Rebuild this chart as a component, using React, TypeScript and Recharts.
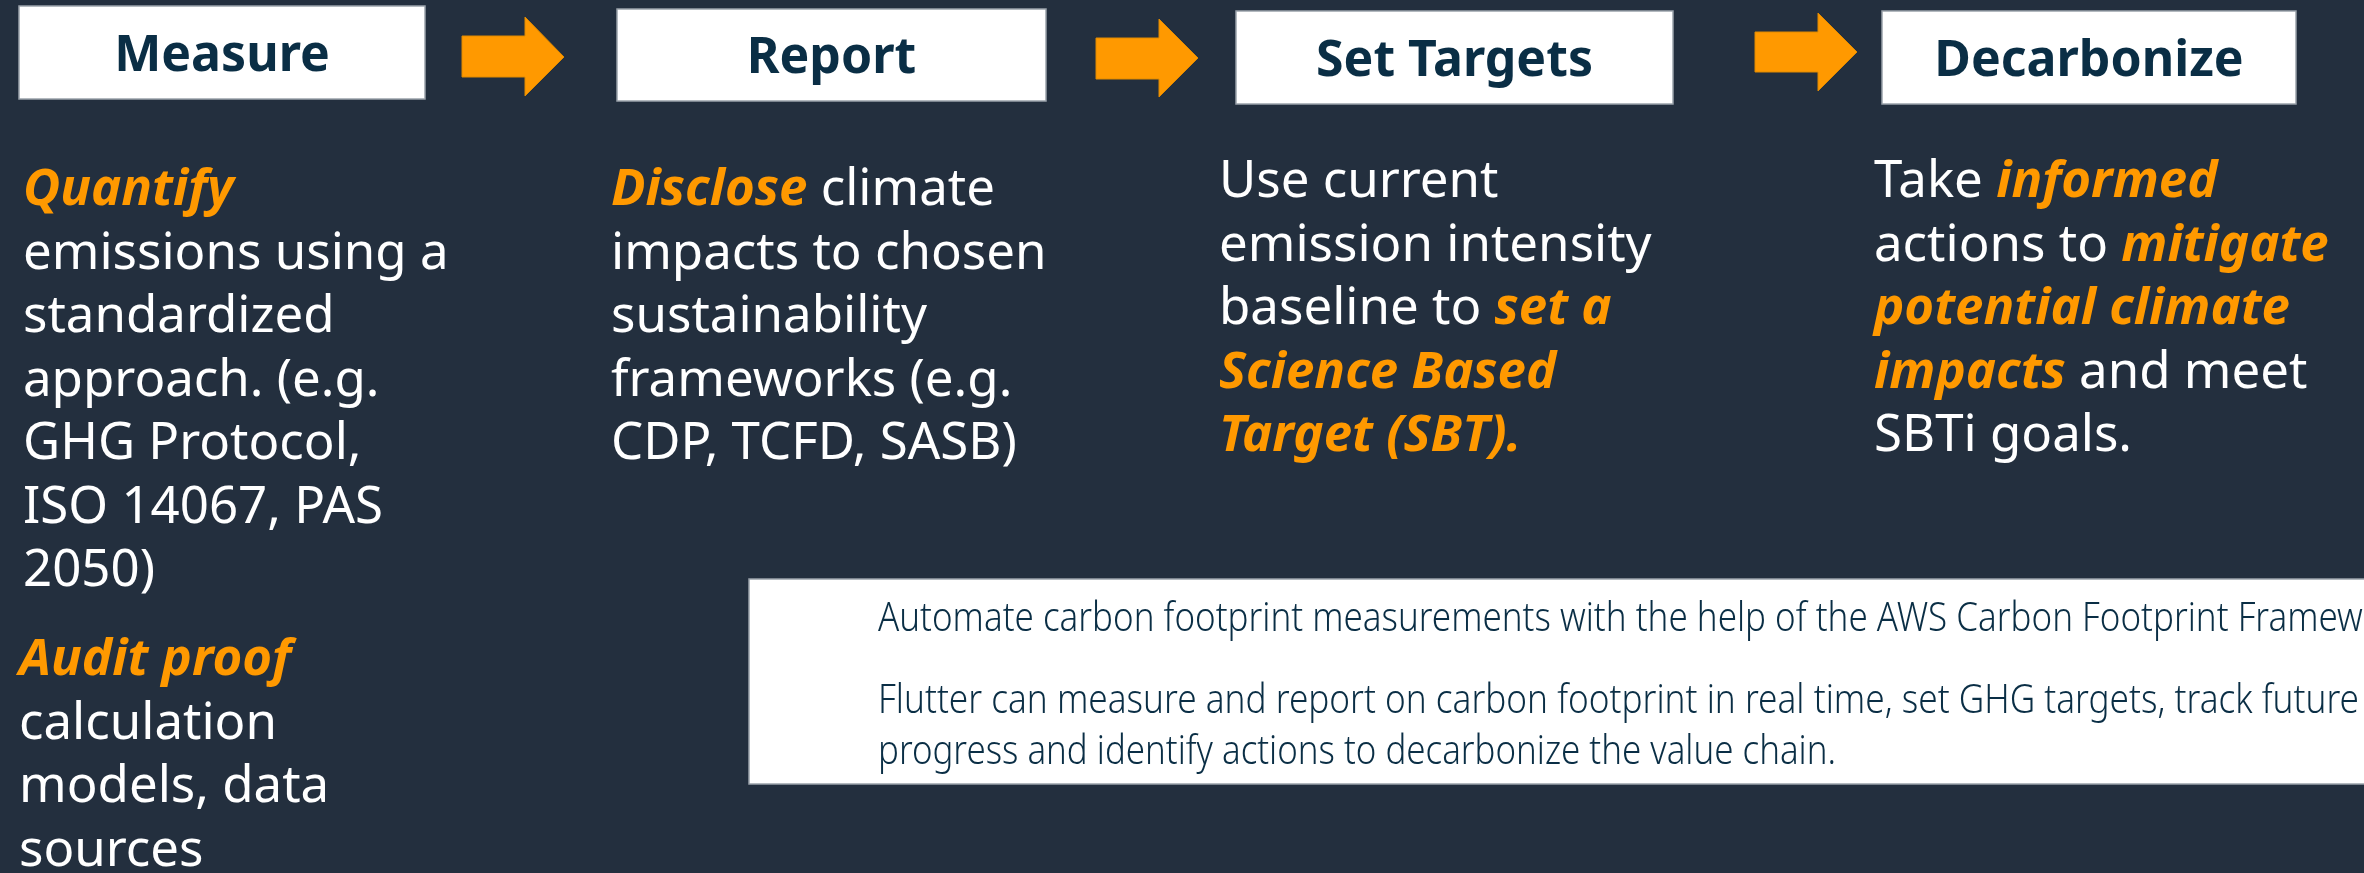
import React from 'react';
import { Surface, Layer, Rectangle, Polygon } from 'recharts';

// ---------- content ----------
const stepTitles: string[] = ['Measure', 'Report', 'Set Targets', 'Decarbonize'];

// each line is a list of [text, highlighted] segments
type Seg = [string, boolean];
const measureLines: Seg[][] = [
  [['Quantify', true]],
  [['emissions using a', false]],
  [['standardized', false]],
  [['approach. (e.g.', false]],
  [['GHG Protocol,', false]],
  [['ISO 14067, PAS', false]],
  [['2050)', false]],
];
const measureLines2: Seg[][] = [
  [['Audit proof', true]],
  [['calculation', false]],
  [['models, data', false]],
  [['sources', false]],
];
const reportLines: Seg[][] = [
  [['Disclose', true], [' climate', false]],
  [['impacts to chosen', false]],
  [['sustainability', false]],
  [['frameworks (e.g.', false]],
  [['CDP, TCFD, SASB)', false]],
];
const targetLines: Seg[][] = [
  [['Use current', false]],
  [['emission intensity', false]],
  [['baseline to ', false], ['set a', true]],
  [['Science Based', true]],
  [['Target (SBT).', true]],
];
const decarbLines: Seg[][] = [
  [['Take ', false], ['informed', true]],
  [['actions to ', false], ['mitigate', true]],
  [['potential climate', true]],
  [['impacts', true], [' and meet', false]],
  [['SBTi goals.', false]],
];
const noteLines: string[] = [
  'Automate carbon footprint measurements with the help of the AWS Carbon Footprint Framework.',
  'Flutter can measure and report on carbon footprint in real time, set GHG targets, track future',
  'progress and identify actions to decarbonize the value chain.',
];

// ---------- layout ----------
const W = 2364;
const H = 873;
const BG = '#232F3E';
const ORANGE = '#FF9900';
const NAVY = '#0A2E45';
const FONT = "'Noto Sans', 'Open Sans', sans-serif";

const boxes = [
  { x0: 19, x1: 425, y0: 6, y1: 99 },
  { x0: 617, x1: 1046, y0: 9, y1: 101 },
  { x0: 1236, x1: 1673, y0: 11, y1: 104 },
  { x0: 1882, x1: 2296, y0: 11, y1: 104 },
];
const arrows = [
  { x0: 462, xh: 525, xt: 564, sT: 36, sB: 77, hT: 17, hB: 96, ty: 57 },
  { x0: 1096, xh: 1159, xt: 1198, sT: 38, sB: 79, hT: 19, hB: 97, ty: 58 },
  { x0: 1755, xh: 1818, xt: 1857, sT: 32, sB: 72, hT: 13, hB: 91, ty: 52 },
];
const columns = [
  { lines: measureLines, x: 23, y: 205 },
  { lines: measureLines2, x: 19, y: 675 },
  { lines: reportLines, x: 611, y: 205 },
  { lines: targetLines, x: 1219, y: 197 },
  { lines: decarbLines, x: 1874, y: 197 },
];
const LINE_H = 63.5;
const BODY_SIZE = 51;
const note = { x0: 749, x1: 2400, y0: 579, y1: 784, tx: 878, ys: [631, 713, 764], lens: [1545, 1481, 958] };

function Column({ lines, x, y }: { lines: Seg[][]; x: number; y: number }) {
  return (
    <g>
      {lines.map((line, i) => (
        <text key={i} x={x} y={y + i * LINE_H} fontFamily={FONT} fontSize={BODY_SIZE} style={{ whiteSpace: 'pre' }}>
          {line.map(([t, hl], j) => (
            <tspan
              key={j}
              fill={hl ? ORANGE : '#FFFFFF'}
              fontWeight={hl ? 700 : 400}
              fontStyle={hl ? 'italic' : 'normal'}
            >
              {t}
            </tspan>
          ))}
        </text>
      ))}
    </g>
  );
}

export default function App() {
  return (
    <div style={{ position: 'fixed', left: 0, top: 0, width: W, height: H, overflow: 'hidden' }}>
      <Surface width={W} height={H}>
        <Layer>
          <Rectangle x={0} y={0} width={W} height={H} fill={BG} isAnimationActive={false} />
          {boxes.map((b, i) => (
            <g key={i}>
              <Rectangle
                x={b.x0}
                y={b.y0}
                width={b.x1 - b.x0}
                height={b.y1 - b.y0}
                fill="#FFFFFF"
                stroke="#9AA2AB"
                strokeWidth={1.5}
                isAnimationActive={false}
              />
              <text
                x={(b.x0 + b.x1) / 2}
                y={(b.y0 + b.y1) / 2 + 18}
                textAnchor="middle"
                fontFamily={FONT}
                fontSize={50}
                fontWeight={700}
                fill={NAVY}
              >
                {stepTitles[i]}
              </text>
            </g>
          ))}
          {arrows.map((a, i) => (
            <Polygon
              key={i}
              points={[
                { x: a.x0, y: a.sT },
                { x: a.xh, y: a.sT },
                { x: a.xh, y: a.hT },
                { x: a.xt, y: a.ty },
                { x: a.xh, y: a.hB },
                { x: a.xh, y: a.sB },
                { x: a.x0, y: a.sB },
              ]}
              fill={ORANGE}
              stroke="#E08A00"
              strokeWidth={1}
            />
          ))}
          {columns.map((c, i) => (
            <Column key={i} lines={c.lines} x={c.x} y={c.y} />
          ))}
          <Rectangle
            x={note.x0}
            y={note.y0}
            width={note.x1 - note.x0}
            height={note.y1 - note.y0}
            fill="#FFFFFF"
            stroke="#9AA2AB"
            strokeWidth={1.5}
            isAnimationActive={false}
          />
          {noteLines.map((t, i) => (
            <text
              key={i}
              x={note.tx}
              y={note.ys[i]}
              fontFamily={FONT}
              fontSize={41}
              fontWeight={300}
              fill={NAVY}
              textLength={note.lens[i]}
              lengthAdjust="spacingAndGlyphs"
            >
              {t}
            </text>
          ))}
        </Layer>
      </Surface>
    </div>
  );
}
